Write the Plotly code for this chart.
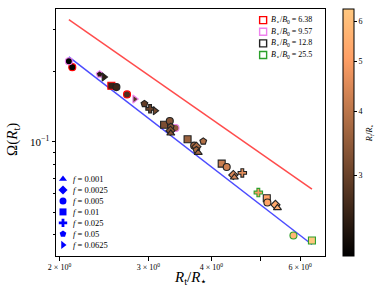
import numpy as np
import plotly.graph_objects as go

# ---------------- data ----------------
# B*/B0 = 6.38
rt_b1 = [2.120, 2.534, 2.722]
om_b1 = [0.208, 0.1732, 0.1592]
f_b1 = [0.005, 0.01, 0.005]
# B*/B0 = 9.57
rt_b2 = [2.087, 2.402, 2.819, 3.397]
om_b2 = [0.2206, 0.194, 0.152, 0.1144]
f_b2 = [0.005, 0.05, 0.0625, 0.005]
# B*/B0 = 12.8
rt_b3 = [2.450, 2.593, 2.947, 3.024, 3.094, 3.224, 3.309, 3.324, 3.319, 3.324,
         3.589, 3.699, 3.737, 3.737, 3.768, 3.855, 4.194, 4.291, 4.422, 4.444,
         4.608, 5.153, 5.167, 5.360, 5.410]
om_b3 = [0.189, 0.171, 0.1451, 0.1382, 0.1355, 0.1181, 0.1225, 0.1158, 0.1114, 0.1086,
         0.1024, 0.0962, 0.0952, 0.0922, 0.0898, 0.1004, 0.0806, 0.0780, 0.0721, 0.0705,
         0.0736, 0.0574, 0.0550, 0.0538, 0.0522]
f_b3 = [0.0625, 0.005, 0.05, 0.025, 0.0625, 0.01, 0.005, 0.05, 0.0025, 0.001,
        0.01, 0.005, 0.0025, 0.05, 0.001, 0.05, 0.01, 0.005, 0.0025, 0.001,
        0.025, 0.01, 0.005, 0.0025, 0.001]
# B*/B0 = 25.5
rt_b4 = [4.958, 5.820, 6.333]
om_b4 = [0.0607, 0.0398, 0.0379]
f_b4 = [0.025, 0.005, 0.01]

b_values = ["6.38", "9.57", "12.8", "25.5"]
f_values = [0.001, 0.0025, 0.005, 0.01, 0.025, 0.05, 0.0625]
f_labels = ["0.001", "0.0025", "0.005", "0.01", "0.025", "0.05", "0.0625"]

# fit of the simulations (blue) and Keplerian (red)
fit_amp = 0.78
fit_index = 1.66
kep_index = 1.5

x_ticks = [2, 3, 4, 5, 6]
x_ticktext = ["2 × 10<sup>0</sup>", "3 × 10<sup>0</sup>", "4 × 10<sup>0</sup>", "", "6 × 10<sup>0</sup>"]
cbar_ticks = [3, 4, 5, 6]

# ---------------- styles ----------------
symbols = {0.001: "triangle-up", 0.0025: "diamond", 0.005: "circle", 0.01: "square",
           0.025: "cross", 0.05: "pentagon", 0.0625: "triangle-right"}
edge_colors = ["#ff0000", "#ee82ee", "#222222", "#2ca02c"]
FONT = "Liberation Serif, DejaVu Serif, serif"


def copper(t):
    return "rgb(%d,%d,%d)" % (round(255 * min(1.0, 1.25 * t)), round(255 * 0.7812 * t), round(255 * 0.4975 * t))


copper_scale = [[float(t), copper(t)] for t in np.linspace(0, 1, 21)]

groups = [(rt_b1, om_b1, f_b1), (rt_b2, om_b2, f_b2), (rt_b3, om_b3, f_b3), (rt_b4, om_b4, f_b4)]
all_rt = [v for g in groups for v in g[0]]
xmin, xmax = min(all_rt), max(all_rt)

fig = go.Figure()

xl = np.geomspace(xmin, xmax, 60)
fig.add_trace(go.Scatter(x=xl.tolist(), y=(xl ** (-kep_index)).tolist(), mode="lines",
                         line=dict(color="rgba(255,0,0,0.7)", width=1.5), showlegend=False))
fig.add_trace(go.Scatter(x=xl.tolist(), y=(fit_amp * xl ** (-fit_index)).tolist(), mode="lines",
                         line=dict(color="rgba(0,0,255,0.7)", width=1.5), showlegend=False))

for (rt, om, ff), ec in zip(groups, edge_colors):
    fig.add_trace(go.Scatter(
        x=rt, y=om, mode="markers", showlegend=False,
        marker=dict(symbol=[symbols[v] for v in ff], size=7,
                    color=[float(np.log(v)) for v in rt], coloraxis="coloraxis",
                    line=dict(color=ec, width=1.1))))

# ---------------- manual legends (in axes-fraction coordinates) ----------------
fx, ftx, fy0, fdy = 0.026, 0.054, 0.312, 0.0445
fig.add_trace(go.Scatter(
    x=[fx] * len(f_values), y=[fy0 - i * fdy for i in range(len(f_values))],
    mode="markers", xaxis="x2", yaxis="y2", showlegend=False, hoverinfo="skip",
    marker=dict(symbol=[symbols[v] for v in f_values], size=7, color="#0000ff")))
for i, lab in enumerate(f_labels):
    fig.add_annotation(x=ftx, y=fy0 - i * fdy, xref="x2", yref="y2", xanchor="left", yanchor="middle",
                       text="<i>f</i> = " + lab, showarrow=False, font=dict(family=FONT, size=8.5, color="black"))

bx, btx, by0, bdy = 0.77, 0.793, 0.955, 0.047
fig.add_trace(go.Scatter(
    x=[bx] * len(b_values), y=[by0 - i * bdy for i in range(len(b_values))],
    mode="markers", xaxis="x2", yaxis="y2", showlegend=False, hoverinfo="skip",
    marker=dict(symbol="square-open", size=7, color=edge_colors, line=dict(width=1.4))))
for i, lab in enumerate(b_values):
    fig.add_annotation(x=btx, y=by0 - i * bdy, xref="x2", yref="y2", xanchor="left", yanchor="middle",
                       text="<i>B</i><sub>⋆</sub>/<i>B</i><sub>0</sub> = " + lab, showarrow=False,
                       font=dict(family=FONT, size=8, color="black"))

W, H = 384, 293
L, R, T, B = 56, 59, 9, 37
pw, ph = W - L - R, H - T - B

# axis titles as annotations for exact placement
fig.add_annotation(x=0.5, y=-(278 - (H - B)) / ph, xref="paper", yref="paper",
                   xanchor="center", yanchor="middle", showarrow=False,
                   text="<i>R</i><sub>t</sub>/<i>R</i><sub>⋆</sub>", font=dict(family=FONT, size=15, color="black"))
fig.add_annotation(x=-(L - 13) / pw, y=0.47, xref="paper", yref="paper", textangle=-90,
                   xanchor="center", yanchor="middle", showarrow=False,
                   text="Ω(<i>R</i><sub>t</sub>)", font=dict(family=FONT, size=15, color="black"))

fig.update_layout(
    width=W, height=H, margin=dict(l=L, r=R, t=T, b=B, autoexpand=False),
    paper_bgcolor="white", plot_bgcolor="white",
    font=dict(family=FONT, color="black"),
    xaxis=dict(type="log", range=[float(np.log10(1.968)), float(np.log10(6.722))],
               tickvals=x_ticks, ticktext=x_ticktext, tickfont=dict(size=8),
               ticks="outside", ticklen=3.5, tickwidth=0.8, tickcolor="black",
               showline=True, linecolor="black", linewidth=1, mirror=True,
               showgrid=False, zeroline=False),
    yaxis=dict(type="log", range=[float(np.log10(0.03254)), float(np.log10(0.3683))],
               tickvals=[0.1], ticktext=["10<sup>−1</sup>"], tickfont=dict(size=11),
               ticks="outside", ticklen=3.5, tickwidth=0.8, tickcolor="black",
               minor=dict(tickvals=[0.04, 0.05, 0.06, 0.07, 0.08, 0.09, 0.2, 0.3],
                          ticks="outside", ticklen=2, tickwidth=0.6, tickcolor="black"),
               showline=True, linecolor="black", linewidth=1, mirror=True,
               showgrid=False, zeroline=False),
    xaxis2=dict(range=[0, 1], overlaying="x", visible=False, anchor="y2"),
    yaxis2=dict(range=[0, 1], overlaying="y", visible=False, anchor="x2"),
    coloraxis=dict(
        colorscale=copper_scale, cmin=float(np.log(xmin)), cmax=float(np.log(xmax)),
        colorbar=dict(x=(343 - L) / pw, xanchor="left", xref="paper", xpad=0, ypad=0,
                      y=0.5, yanchor="middle",
                      len=1, lenmode="fraction", thickness=11, outlinewidth=1, outlinecolor="black",
                      tickmode="array",
                      tickvals=[float(np.log(v)) for v in cbar_ticks], ticktext=[str(v) for v in cbar_ticks],
                      ticks="outside", ticklen=3, tickcolor="black", tickfont=dict(size=8, color="black"),
                      title=dict(text="<i>R</i><sub>t</sub>/<i>R</i><sub>⋆</sub>", side="right",
                                 font=dict(size=8, color="black")))),
)

fig.write_html("out.html", config={"displayModeBar": False},
               post_script="document.body.style.margin='0';document.body.style.padding='0';")
